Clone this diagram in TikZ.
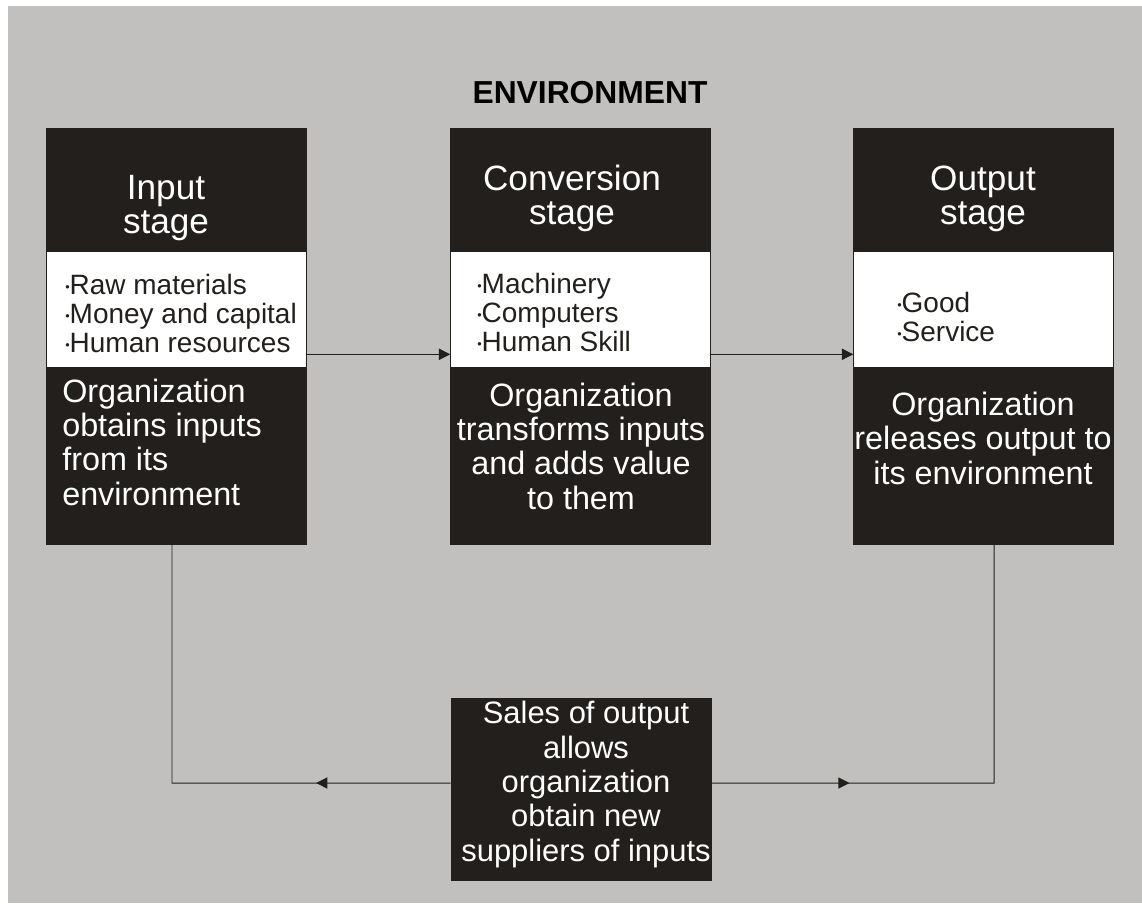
\documentclass[tikz,border=0pt]{standalone}
\usepackage{fontspec}
\setmainfont{Liberation Sans}
\usetikzlibrary{positioning,calc,arrows.meta,decorations.markings}
\definecolor{envbg}{RGB}{193,192,190}
\definecolor{boxc}{RGB}{35,31,28}
\newcommand{\bul}{\raisebox{2pt}{\fontsize{9}{9}\selectfont •}}

\begin{document}
\begin{tikzpicture}[x=0.025cm,y=-0.025cm]
\tikzstyle{stagebox}=[fill=boxc,draw=boxc,minimum width=6.5cm,minimum height=10.4cm,inner sep=0pt];
\tikzstyle{listbox}=[fill=white,draw=boxc,minimum width=6.5cm,minimum height=2.9cm,inner sep=0pt];
\tikzstyle{salesbox}=[fill=boxc,draw=boxc,minimum width=6.5cm,minimum height=4.55cm,inner sep=0pt];
\tikzstyle{ttl}=[anchor=base,text=white,align=center,inner sep=0pt,font=\fontsize{25}{24}\selectfont];
\tikzstyle{desc}=[anchor=base,text=white,align=center,inner sep=0pt,font=\fontsize{23}{24.4}\selectfont];
\tikzstyle{items}=[anchor=base west,text=boxc,align=left,inner sep=0pt,font=\fontsize{19.9}{20.5}\selectfont];
\tikzstyle{link}=[draw=boxc,line width=0.7pt];
\tikzset{tip/.style={-{Triangle[length=2.8mm,width=2.8mm]}}}

% page and environment
\fill[white] (0,0) rectangle (1142,903);
\fill[envbg] (8,6) rectangle (1142,903);
\node[anchor=base,inner sep=0pt,font=\bfseries\fontsize{22.6}{24}\selectfont] (env) at (590,103) {ENVIRONMENT};

% the three stages (base = last line)
\node[stagebox] (inbox) at (176.5,336) {};
\node[stagebox] (convbox) at (580.5,336) {};
\node[stagebox] (outbox) at (983.5,336) {};
\node[listbox] (inlist) at (176.5,309) {};
\node[listbox] (convlist) at (580.5,309) {};
\node[listbox] (outlist) at (983.5,309) {};

\node[ttl] (intitle) at (166,233) {Input\\stage};
\node[ttl] (convtitle) at (572,224) {Conversion\\stage};
\node[ttl] (outtitle) at (983,224) {Output\\stage};

\node[items] (initems) at (65,352) {\bul Raw materials\\\bul Money and capital\\\bul Human resources};
\node[items] (convitems) at (477,351) {\bul Machinery\\\bul Computers\\\bul Human Skill};
\node[items] (outitems) at (897,341) {\bul Good\\\bul Service};

\node[desc,anchor=base west,align=left] (indesc) at (62,505) {Organization\\obtains inputs\\from its\\environment};
\node[desc] (convdesc) at (581,509) {Organization\\transforms inputs\\and adds value\\to them};
\node[desc] (outdesc) at (983,484) {Organization\\releases output to\\its environment};

% feedback
\node[salesbox] (sales) at (581,789) {};
\node[desc,font=\fontsize{22}{24.4}\selectfont] (salestext) at (586,861) {Sales of output\\allows\\organization\\obtain new\\suppliers of inputs};

\coordinate (lc) at (172,783);
\coordinate (rc) at (994,783);

\draw[link,tip] ([yshift=0.325cm]inlist.south east) -- ([yshift=0.325cm]convlist.south west);
\draw[link,tip] ([yshift=0.325cm]convlist.south east) -- ([yshift=0.325cm]outlist.south west);

\draw[link,postaction={decorate},decoration={markings,mark=at position 0.26 with {\arrow{Triangle[length=2.8mm,width=2.8mm]}}}]
  ([yshift=0.15cm]sales.west) -- (lc) -- (inbox.south -| lc);
\draw[link,postaction={decorate},decoration={markings,mark=at position 0.265 with {\arrow{Triangle[length=2.8mm,width=2.8mm]}}}]
  ([yshift=0.15cm]sales.east) -- (rc) -- (outbox.south -| rc);

\end{tikzpicture}
\end{document}
